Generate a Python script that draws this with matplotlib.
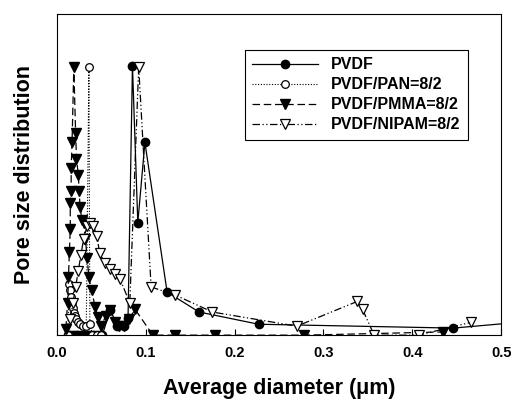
import matplotlib
matplotlib.use("Agg")
import matplotlib.pyplot as plt

plt.rcParams['font.family'] = ['Liberation Sans', 'DejaVu Sans']

# ---- data (y in arbitrary units) ----
pvdf_x = [0.012, 0.015, 0.018, 0.021, 0.024, 0.027, 0.030, 0.033, 0.036, 0.039,
          0.042, 0.045, 0.048, 0.051, 0.060, 0.068, 0.075, 0.080, 0.085, 0.091,
          0.099, 0.124, 0.160, 0.227, 0.446, 0.520]
pvdf_y = [0.0, 0.0, 0.0, 0.0, 0.0, 0.0, 0.0, 0.0, 0.0, 0.0,
          0.0, 0.0, 0.0, 0.0, 0.078, 0.030, 0.028, 0.052, 0.838, 0.350,
          0.600, 0.134, 0.072, 0.034, 0.022, 0.040]

pan_x = [0.012, 0.014, 0.015, 0.016, 0.017, 0.018, 0.019, 0.020, 0.022, 0.024,
         0.026, 0.029, 0.033, 0.036, 0.037, 0.040, 0.045, 0.050]
pan_y = [0.0, 0.16, 0.14, 0.12, 0.10, 0.085, 0.07, 0.06, 0.05, 0.04,
         0.035, 0.03, 0.03, 0.835, 0.035, 0.0, 0.0, 0.0]

pmma_x = [0.010, 0.012, 0.013, 0.014, 0.015, 0.015, 0.016, 0.016, 0.017, 0.019,
          0.021, 0.022, 0.024, 0.025, 0.026, 0.028, 0.030, 0.032, 0.034, 0.036,
          0.039, 0.043, 0.046, 0.050, 0.055, 0.060, 0.065, 0.070, 0.076, 0.081,
          0.088, 0.108, 0.133, 0.178, 0.278, 0.434]
pmma_y = [0.02, 0.10, 0.18, 0.26, 0.33, 0.41, 0.45, 0.52, 0.60, 0.835,
          0.63, 0.55, 0.50, 0.45, 0.40, 0.36, 0.35, 0.30, 0.24, 0.18,
          0.14, 0.087, 0.056, 0.03, 0.06, 0.078, 0.04, 0.03, 0.03, 0.05,
          0.08, 0.0, 0.0, 0.0, 0.0, 0.01]

nipam_x = [0.015, 0.018, 0.021, 0.024, 0.027, 0.030, 0.034, 0.037, 0.041, 0.045,
           0.048, 0.054, 0.060, 0.065, 0.071, 0.082, 0.092, 0.106, 0.133, 0.175,
           0.270, 0.338, 0.344, 0.357, 0.407, 0.466]
nipam_y = [0.05, 0.10, 0.15, 0.20, 0.25, 0.30, 0.34, 0.35, 0.34, 0.31,
           0.255, 0.225, 0.205, 0.19, 0.175, 0.10, 0.835, 0.15, 0.125, 0.072,
           0.028, 0.105, 0.08, 0.0, 0.0, 0.04]

labels = ['PVDF', 'PVDF/PAN=8/2', 'PVDF/PMMA=8/2', 'PVDF/NIPAM=8/2']
x_ticks = [0.0, 0.1, 0.2, 0.3, 0.4, 0.5]

fig = plt.figure(figsize=(5.13, 3.99), dpi=100)
ax = fig.add_axes([0.111, 0.160, 0.866, 0.805])

ax.plot(pvdf_x, pvdf_y, color='black', lw=0.9, ls='-', marker='o', ms=6,
        mfc='black', mec='black', label=labels[0])
ax.plot(pan_x, pan_y, color='black', lw=0.8, ls=(0, (1, 1.5)), marker='o', ms=5.5,
        mfc='white', mec='black', mew=0.9, label=labels[1])
ax.plot(pmma_x, pmma_y, color='black', lw=0.9, ls=(0, (6, 3)), marker='v', ms=6.5,
        mfc='black', mec='black', label=labels[2])
ax.plot(nipam_x, nipam_y, color='black', lw=0.9, ls=(0, (6, 2, 1, 2, 1, 2)),
        marker='v', ms=6.5, mfc='white', mec='black', mew=0.9, label=labels[3])

ax.set_xlim(0, 0.5)
ax.set_ylim(0, 1.0)
ax.set_xticks(x_ticks)
ax.set_xticklabels([f'{t:.1f}' for t in x_ticks], fontsize=10.5, fontweight='bold')
ax.set_yticks([])
ax.tick_params(axis='x', direction='in', length=4, width=0.8, pad=8)
for s in ax.spines.values():
    s.set_linewidth(0.8)

ax.set_xlabel('Average diameter (μm)', fontsize=15.5, fontweight='bold', labelpad=13)
ax.set_ylabel('Pore size distribution', fontsize=15.5, fontweight='bold', labelpad=16)

leg = ax.legend(loc='upper left', bbox_to_anchor=(0.423, 0.888),
                prop={'weight': 'bold', 'size': 11.5}, numpoints=1, handlelength=4.1,
                frameon=True, fancybox=False, edgecolor='black', framealpha=1,
                labelspacing=0.32, borderpad=0.45, handletextpad=0.85, borderaxespad=0)
leg.get_frame().set_linewidth(0.8)

fig.savefig('out.png', dpi=100)
